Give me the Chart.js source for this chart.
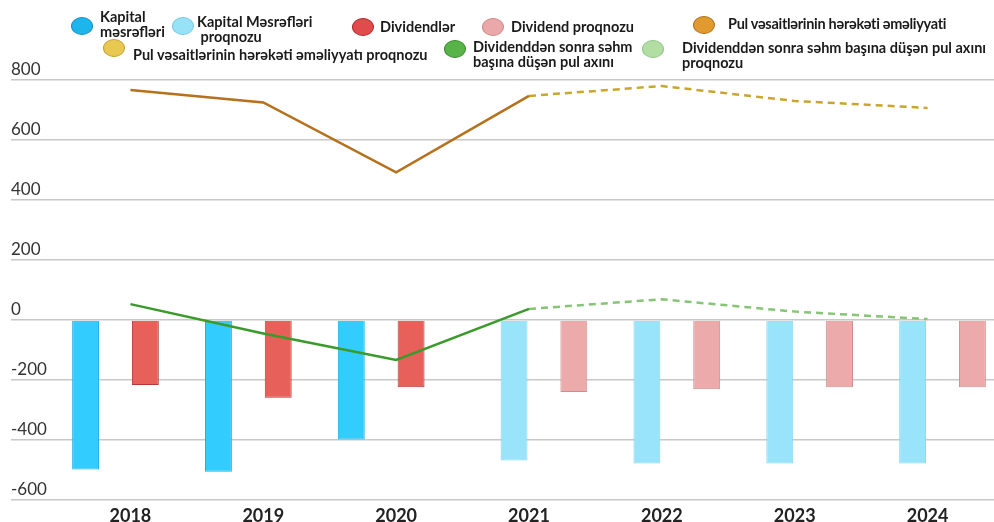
<!DOCTYPE html>
<html lang="az">
<head>
<meta charset="utf-8">
<title>Kapital məsrəfləri, dividendlər və pul axını</title>
<script src="https://cdn.jsdelivr.net/npm/chart.js@4.4.1/dist/chart.umd.min.js"></script>
<style>
  body { margin: 0; background: #fff; }
  #wrap { position: relative; width: 994px; height: 522px; font-family: Lato, "DejaVu Sans", sans-serif; }
  #chart { position: absolute; left: 0; top: 0; }
  .mk { position: absolute; width: 20px; height: 16px; border-radius: 50%; border: 1px solid; }
  .tx { position: absolute; font-size: 14.5px; font-weight: bold; line-height: 15px; color: #1a1a1a; white-space: nowrap; }
</style>
</head>
<body>
<div id="wrap">
  <canvas id="chart" width="994" height="522"></canvas>

  <!-- Legende (wie im Original, frei angeordnet) -->
  <div class="mk" style="left:71px;top:17px;background:#1db6ec;border-color:#1590c0"></div>
  <div class="tx" style="left:100px;top:9px">Kapital<br>məsrəfləri</div>

  <div class="mk" style="left:172px;top:17px;background:#98e2f8;border-color:#78c6e2"></div>
  <div class="tx" style="left:197px;top:14px">Kapital Məsrəfləri<br>&nbsp;proqnozu</div>

  <div class="mk" style="left:352px;top:18px;background:#e04c4c;border-color:#b02828"></div>
  <div class="tx" style="left:380px;top:19px">Dividendlər</div>

  <div class="mk" style="left:482px;top:18px;background:#eba8a8;border-color:#cc8686"></div>
  <div class="tx" style="left:511px;top:19px">Dividend proqnozu</div>

  <div class="mk" style="left:693px;top:16px;background:#e09a30;border-color:#b07018"></div>
  <div class="tx" style="left:728px;top:16px;letter-spacing:-0.3px">Pul vəsaitlərinin hərəkəti əməliyyati</div>

  <div class="mk" style="left:103px;top:39px;background:#e8c850;border-color:#c0a030"></div>
  <div class="tx" style="left:133px;top:47px">Pul vəsaitlərinin hərəkəti əməliyyatı proqnozu</div>

  <div class="mk" style="left:444px;top:40px;background:#58b448;border-color:#3a8a2e"></div>
  <div class="tx" style="left:473px;top:39px">Dividenddən sonra səhm<br>başına düşən pul axını</div>

  <div class="mk" style="left:642px;top:40px;background:#b2dea4;border-color:#90c482"></div>
  <div class="tx" style="left:682px;top:40px">Dividenddən sonra səhm başına düşən pul axını<br>proqnozu</div>
</div>

<script>
// Daten
const years = ["2018", "2019", "2020", "2021", "2022", "2023", "2024"];

const kapital = [-498, -506, -398, null, null, null, null];
const kapitalProqnoz = [null, null, null, -468, -478, -478, -478];
const dividend = [-217, -259, -224, null, null, null, null];
const dividendProqnoz = [null, null, null, -240, -231, -224, -224];

const pulAxini = [767, 725, 492, 747, null, null, null];
const pulAxiniProqnoz = [null, null, null, 747, 780, 730, 707];
const sehmAxini = [53, -45, -133, 37, null, null, null];
const sehmAxiniProqnoz = [null, null, null, 37, 69, 28, 3];

const yMin = -600;
const yMax = 800;
const yStep = 200;

// Linien zuerst => werden oben gezeichnet
const lineBase = { type: "line", pointRadius: 0, tension: 0, fill: false };

new Chart(document.getElementById("chart"), {
  type: "bar",
  data: {
    labels: years,
    datasets: [
      { ...lineBase, label: "Pul vəsaitlərinin hərəkəti əməliyyati", data: pulAxini, borderColor: "#b5711c", borderWidth: 2.5 },
      { ...lineBase, label: "Pul vəsaitlərinin hərəkəti əməliyyatı proqnozu", data: pulAxiniProqnoz, borderColor: "#c9a62c", borderWidth: 2.5, borderDash: [7, 5] },
      { ...lineBase, label: "Dividenddən sonra səhm başına düşən pul axını", data: sehmAxini, borderColor: "#3a9a2a", borderWidth: 2.5 },
      { ...lineBase, label: "Dividenddən sonra səhm başına düşən pul axını proqnozu", data: sehmAxiniProqnoz, borderColor: "#86c476", borderWidth: 2.5, borderDash: [7, 5] },

      { label: "Kapital məsrəfləri", data: kapital, backgroundColor: "#33ccff", borderColor: "#22aee0", borderWidth: 1 },
      { label: "Kapital Məsrəfləri proqnozu", data: kapitalProqnoz, backgroundColor: "#99e4fb", borderColor: "#86d4ee", borderWidth: 1 },
      { label: "Dividendlər", data: dividend, backgroundColor: "#e8605a", borderColor: "#b33a36", borderWidth: 1 },
      { label: "Dividend proqnozu", data: dividendProqnoz, backgroundColor: "#ecaaaa", borderColor: "#cf8e8e", borderWidth: 1 },
    ],
  },
  options: {
    responsive: false,
    animation: false,
    layout: { padding: { left: 11, top: 80, right: 0, bottom: 0 } },
    plugins: {
      legend: { display: false },
      tooltip: { enabled: false },
    },
    datasets: {
      bar: { categoryPercentage: 0.9, barPercentage: 0.9 },
    },
    scales: {
      x: {
        grid: { display: false, drawTicks: false },
        border: { display: false },
        ticks: { color: "#222", padding: 5, font: { family: "Lato", size: 18, weight: "bold" } },
        afterFit: (scale) => { scale.height = 22; },
      },
      y: {
        min: yMin,
        max: yMax,
        grid: { color: "#c8c8c8", lineWidth: 1.5, tickLength: 53 },
        border: { display: false },
        ticks: {
          stepSize: yStep,
          crossAlign: "far",
          labelOffset: -10,
          padding: 0,
          color: "#333",
          font: { family: "Lato", size: 17 },
        },
        afterFit: (scale) => { scale.width = 53; },
      },
    },
  },
});
</script>
</body>
</html>
